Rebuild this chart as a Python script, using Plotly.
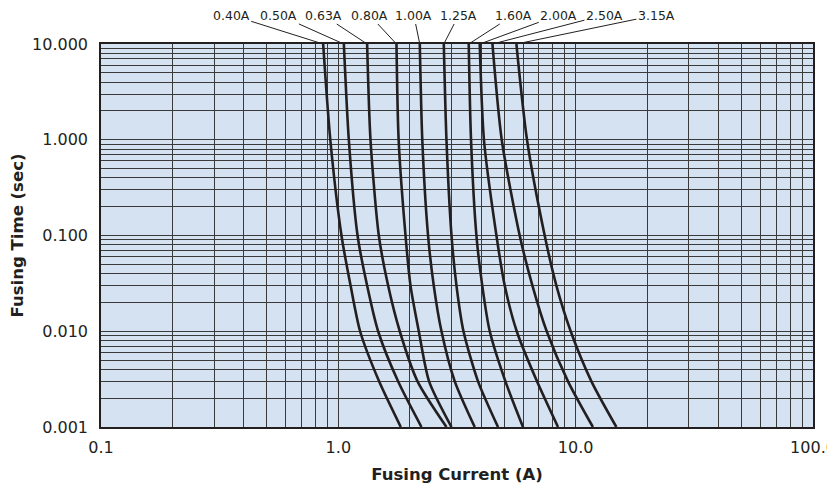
import plotly.graph_objects as go
import numpy as np

# Fusing time levels (sec) at which curve currents were read
time_levels = [10, 1, 0.1, 0.03, 0.01, 0.003, 0.001]

ratings = ["0.40A", "0.50A", "0.63A", "0.80A", "1.00A", "1.25A", "1.60A", "2.00A", "2.50A", "3.15A"]

# Fusing current (A) for each rating at the time levels above
curr_040 = [0.863, 0.925, 1.031, 1.126, 1.235, 1.485, 1.833]
curr_050 = [1.055, 1.107, 1.205, 1.322, 1.471, 1.785, 2.240]
curr_063 = [1.322, 1.366, 1.481, 1.621, 1.815, 2.156, 2.855]
curr_080 = [1.758, 1.795, 1.919, 2.014, 2.183, 2.412, 2.998]
curr_100 = [2.204, 2.258, 2.388, 2.524, 2.720, 3.094, 3.756]
curr_125 = [2.782, 2.855, 2.998, 3.146, 3.367, 3.878, 4.708]
curr_160 = [3.543, 3.623, 3.818, 4.040, 4.345, 5.058, 5.999]
curr_200 = [3.943, 4.107, 4.636, 5.024, 5.644, 6.871, 8.425]
curr_250 = [4.460, 4.880, 5.810, 6.573, 7.549, 9.282, 11.82]
curr_315 = [5.627, 6.237, 7.404, 8.294, 9.528, 11.65, 14.84]

currents = [curr_040, curr_050, curr_063, curr_080, curr_100,
            curr_125, curr_160, curr_200, curr_250, curr_315]

# label horizontal offsets (px) from curve top to label centre
label_dx = [-92, -65, -44, -27, -6, 15, 45, 79, 112, 140]

x_tickvals = [0.1, 1, 10, 100]
x_ticktext = ["0.1", "1.0", "10.0", "100.0"]
y_tickvals = [0.001, 0.01, 0.1, 1, 10]
y_ticktext = ["0.001", "0.010", "0.100", "1.000", "10.000"]

x_minor = [m * 10.0 ** e for e in (-1, 0, 1) for m in range(2, 10)]
y_minor = [m * 10.0 ** e for e in (-3, -2, -1, 0) for m in range(2, 10)]

ink = "#231f20"
gridc = "#3a3a3a"
font = "DejaVu Sans, Verdana, sans-serif"

fig = go.Figure()
for name, cur in zip(ratings, currents):
    fig.add_trace(go.Scatter(x=cur, y=time_levels, mode="lines", name=name,
                             line=dict(color=ink, width=2.6, shape="spline", smoothing=0.7),
                             showlegend=False, hoverinfo="skip"))

for name, cur, dx in zip(ratings, currents, label_dx):
    fig.add_annotation(x=np.log10(cur[0]), y=np.log10(time_levels[0]), xref="x", yref="y",
                       text=name, showarrow=True, arrowhead=0, arrowwidth=1, arrowcolor=ink,
                       ax=dx, ay=-29, axref="pixel", ayref="pixel",
                       font=dict(family=font, size=12.5, color=ink), borderpad=1)

fig.update_xaxes(type="log", range=[-1, 2], tickvals=x_tickvals, ticktext=x_ticktext,
                 showgrid=True, gridcolor=gridc, gridwidth=1,
                 minor=dict(tickvals=x_minor, showgrid=True, gridcolor=gridc, gridwidth=1),
                 showline=True, mirror=True, linecolor=ink, linewidth=1.5,
                 ticks="", ticklabelstandoff=5, zeroline=False, automargin=False,
                 ticklabeloverflow="allow",
                 tickfont=dict(family=font, size=16, color=ink),
                 title=dict(text="<b>Fusing Current (A)</b>", standoff=12,
                            font=dict(family=font, size=16.5, color=ink)))
fig.update_yaxes(type="log", range=[-3, 1], tickvals=y_tickvals, ticktext=y_ticktext,
                 showgrid=True, gridcolor=gridc, gridwidth=1,
                 minor=dict(tickvals=y_minor, showgrid=True, gridcolor=gridc, gridwidth=1),
                 showline=True, mirror=True, linecolor=ink, linewidth=1.5,
                 ticks="", ticklabelstandoff=8, zeroline=False, automargin=False,
                 ticklabeloverflow="allow",
                 tickfont=dict(family=font, size=16, color=ink),
                 title=dict(text="<b>Fusing Time (sec)</b>", standoff=6,
                            font=dict(family=font, size=16.5, color=ink)))

# page body has an 8px default margin, so the figure is sized/offset to compensate
fig.update_layout(width=827, height=479, margin=dict(l=93, r=22, t=36, b=60),
                  plot_bgcolor="#d4e2f2", paper_bgcolor="white",
                  font=dict(family=font, color=ink))

fig.write_html("out.html")
